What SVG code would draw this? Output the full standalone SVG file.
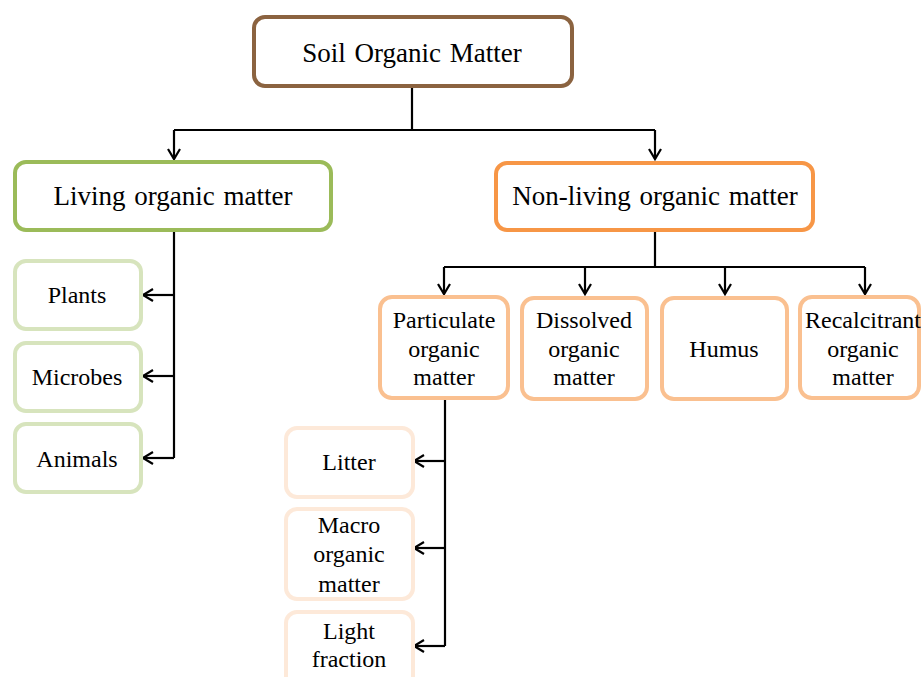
<svg xmlns="http://www.w3.org/2000/svg" width="921" height="677" viewBox="0 0 921 677">
<defs>
<marker id="arr" markerWidth="14" markerHeight="14" refX="11" refY="7" orient="auto" markerUnits="userSpaceOnUse">
<path d="M1,1 L11,7 L1,13" fill="none" stroke="#000" stroke-width="2.2"/>
</marker>
<style>
text{font-family:"Liberation Serif","Times New Roman",serif;fill:#000;text-anchor:middle}
.big{font-size:27px;word-spacing:2px}
.sm{font-size:24px}
rect{fill:#fff;stroke-width:4}
.c{fill:none;stroke:#000;stroke-width:2.2}
</style>
</defs>
<rect x="0" y="0" width="921" height="677" style="fill:#fff;stroke:none"/>
<g id="connectors">
<path class="c" d="M412,87 V130 M174,130 H655"/>
<path class="c" d="M174,130 V159" marker-end="url(#arr)"/>
<path class="c" d="M655,130 V159" marker-end="url(#arr)"/>
<path class="c" d="M174,231 V458"/>
<path class="c" d="M174,295 H143" marker-end="url(#arr)"/>
<path class="c" d="M174,376 H143" marker-end="url(#arr)"/>
<path class="c" d="M174,458 H143" marker-end="url(#arr)"/>
<path class="c" d="M655,232 V267 M444,267 H865"/>
<path class="c" d="M444,267 V294" marker-end="url(#arr)"/>
<path class="c" d="M585,267 V294" marker-end="url(#arr)"/>
<path class="c" d="M725,267 V294" marker-end="url(#arr)"/>
<path class="c" d="M865,267 V294" marker-end="url(#arr)"/>
<path class="c" d="M445,400 V646"/>
<path class="c" d="M445,461 H414" marker-end="url(#arr)"/>
<path class="c" d="M445,548 H414" marker-end="url(#arr)"/>
<path class="c" d="M445,646 H414" marker-end="url(#arr)"/>
</g>
<g id="som">
<rect x="254" y="17" width="318" height="69" rx="11" style="stroke:#8B6340"/>
<text class="big" x="412" y="62">Soil Organic Matter</text>
</g>
<g id="living">
<rect x="15" y="162" width="316" height="68" rx="11" style="stroke:#9BBB59"/>
<text class="big" x="173" y="205">Living organic matter</text>
</g>
<g id="nonliving">
<rect x="496" y="163" width="317" height="67" rx="11" style="stroke:#F79646"/>
<text class="big" x="655" y="205">Non-living organic matter</text>
</g>
<g id="plants">
<rect x="15" y="261" width="126" height="68" rx="11" style="stroke:#D7E4BD"/>
<text class="sm" x="77" y="303">Plants</text>
</g>
<g id="microbes">
<rect x="15" y="343" width="126" height="68" rx="11" style="stroke:#D7E4BD"/>
<text class="sm" x="77" y="385">Microbes</text>
</g>
<g id="animals">
<rect x="15" y="424" width="126" height="68" rx="11" style="stroke:#D7E4BD"/>
<text class="sm" x="77" y="467">Animals</text>
</g>
<g id="particulate">
<rect x="380" y="297" width="128" height="101" rx="12" style="stroke:#FAC090"/>
<text class="sm" x="444" y="328">Particulate</text>
<text class="sm" x="444" y="357">organic</text>
<text class="sm" x="444" y="385">matter</text>
</g>
<g id="dissolved">
<rect x="522" y="298" width="125" height="101" rx="12" style="stroke:#FAC090"/>
<text class="sm" x="584" y="328">Dissolved</text>
<text class="sm" x="584" y="357">organic</text>
<text class="sm" x="584" y="385">matter</text>
</g>
<g id="humus">
<rect x="662" y="298" width="125" height="101" rx="12" style="stroke:#FAC090"/>
<text class="sm" x="724" y="357">Humus</text>
</g>
<g id="recalcitrant">
<rect x="800" y="297" width="119" height="101" rx="12" style="stroke:#FAC090"/>
<text class="sm" x="863" y="328">Recalcitrant</text>
<text class="sm" x="863" y="357">organic</text>
<text class="sm" x="863" y="385">matter</text>
</g>
<g id="litter">
<rect x="286" y="428" width="127" height="69" rx="11" style="stroke:#FDE9D9"/>
<text class="sm" x="349" y="470">Litter</text>
</g>
<g id="macro">
<rect x="286" y="509" width="127" height="90" rx="11" style="stroke:#FDE9D9"/>
<text class="sm" x="349" y="533">Macro</text>
<text class="sm" x="349" y="562">organic</text>
<text class="sm" x="349" y="592">matter</text>
</g>
<g id="light">
<rect x="286" y="612" width="127" height="80" rx="11" style="stroke:#FDE9D9"/>
<text class="sm" x="349" y="639">Light</text>
<text class="sm" x="349" y="667">fraction</text>
</g>
</svg>
